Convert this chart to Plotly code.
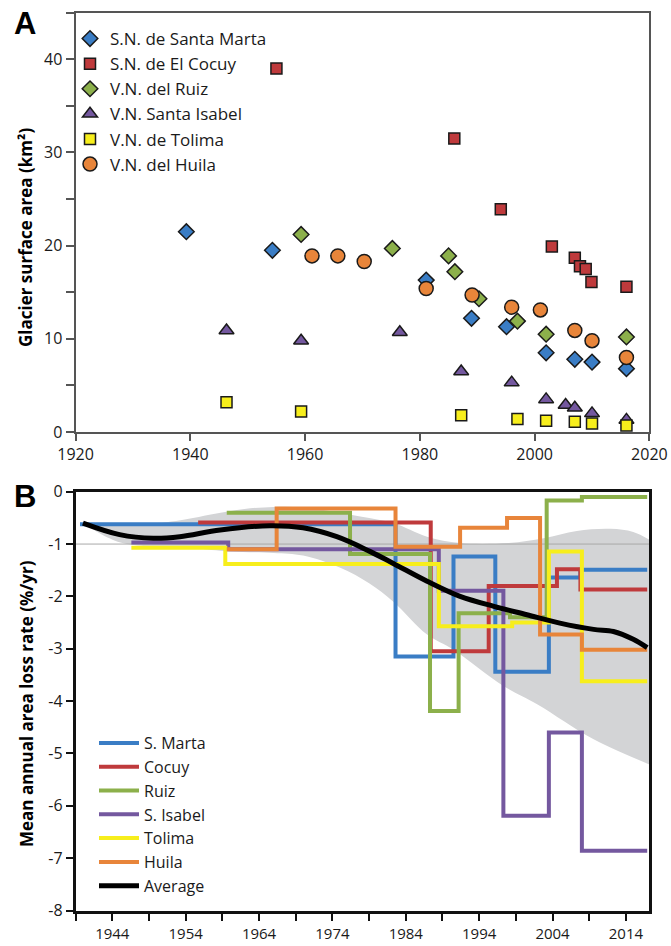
import plotly.graph_objects as go

# ---------------- Panel A: glacier surface area (km²) ----------------
sm_year = [1939.3, 1954.3, 1981.1, 1989.0, 1995.1, 2002.0, 2007.0, 2010.0, 2016.0]
sm_area = [21.5, 19.5, 16.3, 12.2, 11.3, 8.5, 7.8, 7.5, 6.8]
co_year = [1955.0, 1986.0, 1994.1, 2003.0, 2007.0, 2007.9, 2008.9, 2009.9, 2016.0]
co_area = [39.0, 31.5, 23.9, 19.9, 18.7, 17.8, 17.5, 16.1, 15.6]
ru_year = [1959.3, 1975.2, 1985.0, 1986.1, 1990.3, 1997.0, 2002.0, 2016.0]
ru_area = [21.2, 19.7, 18.9, 17.2, 14.3, 11.9, 10.5, 10.2]
si_year = [1946.3, 1959.3, 1976.5, 1987.2, 1996.0, 2002.0, 2005.4, 2007.0, 2010.0, 2016.0]
si_area = [10.9, 9.8, 10.7, 6.5, 5.3, 3.5, 2.9, 2.6, 2.0, 1.3]
to_year = [1946.3, 1959.3, 1987.2, 1997.0, 2002.0, 2007.0, 2010.0, 2016.0]
to_area = [3.2, 2.2, 1.8, 1.4, 1.2, 1.1, 0.9, 0.7]
hu_year = [1961.2, 1965.7, 1970.3, 1981.1, 1989.1, 1996.0, 2001.0, 2007.0, 2010.0, 2016.0]
hu_area = [18.9, 18.9, 18.3, 15.4, 14.7, 13.4, 13.1, 10.9, 9.8, 8.0]

# ---------------- Panel B: mean annual area loss rate (%/yr) ----------------
sm_rx = [1939.6, 1982.6, 1990.5, 1996.2, 2003.5, 2007.8, 2016.9]
sm_r = [-0.62, -3.15, -1.24, -3.44, -1.64, -1.49, -1.49]
co_rx = [1955.7, 1987.4, 1995.3, 2004.6, 2007.8, 2016.9]
co_r = [-0.59, -3.05, -1.80, -1.48, -1.87, -1.87]
ru_rx = [1959.6, 1976.4, 1987.3, 1991.2, 1998.2, 2003.2, 2008.0, 2016.9]
ru_r = [-0.40, -1.19, -4.19, -2.32, -2.40, -0.17, -0.10, -0.10]
si_rx = [1946.6, 1959.8, 1988.5, 1997.3, 2003.5, 2008.0, 2016.9]
si_r = [-0.97, -1.10, -1.89, -6.19, -4.60, -6.86, -6.86]
to_rx = [1946.6, 1959.4, 1988.5, 1998.5, 2003.5, 2008.0, 2016.9]
to_r = [-1.07, -1.38, -2.57, -2.50, -1.14, -3.62, -3.62]
hu_rx = [1959.6, 1966.4, 1982.6, 1991.4, 1997.8, 2002.3, 2008.0, 2016.9]
hu_r = [-1.10, -0.32, -1.05, -0.69, -0.50, -2.73, -3.02, -3.02]

avg_x = [1940.0, 1945.0, 1949.6, 1953.2, 1958.7, 1965.5, 1970.0, 1974.6, 1979.1,
         1982.3, 1986.9, 1991.4, 1996.0, 2000.5, 2005.0, 2009.6, 2012.3, 2015.0, 2016.9]
avg_r = [-0.60, -0.82, -0.89, -0.86, -0.73, -0.65, -0.69, -0.86, -1.14,
         -1.37, -1.71, -2.00, -2.19, -2.35, -2.51, -2.63, -2.67, -2.82, -2.98]

band_up_x = [1940.0, 1950.0, 1955.0, 1958.0, 1962.0, 1966.0, 1970.0, 1975.0, 1978.0,
             1982.3, 1986.9, 1991.4, 1998.0, 2002.8, 2007.3, 2011.9, 2015.0, 2017.2]
band_up = [-0.60, -0.60, -0.50, -0.42, -0.33, -0.29, -0.30, -0.40, -0.48,
           -0.60, -0.86, -0.98, -0.98, -0.89, -0.75, -0.71, -0.77, -0.92]
band_lo_x = [1940.0, 1943.0, 1946.0, 1955.0, 1960.0, 1966.0, 1970.0, 1975.0, 1979.0,
             1982.3, 1986.9, 1990.5, 1997.3, 2001.9, 2009.6, 2017.2]
band_lo = [-0.60, -0.85, -1.00, -1.08, -1.14, -1.17, -1.22, -1.45, -1.75,
           -2.10, -2.73, -3.02, -3.71, -4.06, -4.73, -5.21]

top_xticks = [1920, 1940, 1960, 1980, 2000, 2020]
top_yticks = [0, 10, 20, 30, 40]
bot_xticks = [1944, 1954, 1964, 1974, 1984, 1994, 2004, 2014]
bot_yticks = [0, -1, -2, -3, -4, -5, -6, -7, -8]
bot_ylabels = ["0", "-1", "-2", "-3", "-4", "-5", "-6", "-7", "-8"]
bot_xrange = [1939.0, 2017.2]

C_BLUE = "#3a7dc5"
C_RED = "#bf3a3c"
C_GREEN = "#8cb04b"
C_PURPLE = "#74589f"
C_YELLOW = "#f7ee1c"
C_ORANGE = "#e8853a"
FONT = "Open Sans"

fig = go.Figure()

outline = dict(color="#1a1a1a", width=1.5)
top_series = [
    ("S.N. de Santa Marta", sm_year, sm_area, "diamond", 12, C_BLUE),
    ("S.N. de El Cocuy", co_year, co_area, "square", 11, C_RED),
    ("V.N. del Ruiz", ru_year, ru_area, "diamond", 12, C_GREEN),
    ("V.N. Santa Isabel", si_year, si_area, "triangle-up", 13, C_PURPLE),
    ("V.N. de Tolima", to_year, to_area, "square", 11, C_YELLOW),
    ("V.N. del Huila", hu_year, hu_area, "circle", 14, C_ORANGE),
]
for name, xs, ys, sym, sz, col in top_series:
    fig.add_trace(go.Scatter(x=xs, y=ys, mode="markers", name=name,
                             marker=dict(symbol=sym, size=sz, color=col, line=outline),
                             xaxis="x", yaxis="y", legend="legend"))

# grey envelope
fig.add_trace(go.Scatter(x=band_lo_x, y=band_lo, mode="lines", line=dict(width=0, shape="spline"),
                         showlegend=False, hoverinfo="skip", xaxis="x2", yaxis="y2"))
fig.add_trace(go.Scatter(x=band_up_x, y=band_up, mode="lines", line=dict(width=0, shape="spline"),
                         fill="tonexty", fillcolor="#d3d4d6",
                         showlegend=False, hoverinfo="skip", xaxis="x2", yaxis="y2"))
# reference line at -1
fig.add_trace(go.Scatter(x=bot_xrange, y=[-1, -1], mode="lines", line=dict(color="#a8a8a8", width=1),
                         showlegend=False, hoverinfo="skip", xaxis="x2", yaxis="y2"))

bot_series = [
    ("S. Marta", sm_rx, sm_r, C_BLUE),
    ("Cocuy", co_rx, co_r, C_RED),
    ("Ruiz", ru_rx, ru_r, C_GREEN),
    ("S. Isabel", si_rx, si_r, C_PURPLE),
    ("Tolima", to_rx, to_r, C_YELLOW),
    ("Huila", hu_rx, hu_r, C_ORANGE),
]
for name, xs, ys, col in bot_series:
    fig.add_trace(go.Scatter(x=xs, y=ys, mode="lines", name=name,
                             line=dict(color=col, width=4, shape="hv"),
                             xaxis="x2", yaxis="y2", legend="legend2"))
fig.add_trace(go.Scatter(x=avg_x, y=avg_r, mode="lines", name="Average",
                         line=dict(color="#000000", width=5, shape="spline"),
                         xaxis="x2", yaxis="y2", legend="legend2"))

W, H = 671, 946
xdom = [75.6 / W, 649.4 / W]
top_dom = [1 - 432.0 / H, 1 - 12.7 / H]
bot_dom = [1 - 910.5 / H, 1 - 491.7 / H]

tickfont = dict(family=FONT, size=16, color="#1a1a1a")
tickfont_b = dict(family=FONT, size=15, color="#1a1a1a")
grey_ax = "#555555"

fig.update_layout(
    width=W, height=H,
    template="none",
    paper_bgcolor="white", plot_bgcolor="white",
    margin=dict(l=0, r=0, t=0, b=0),
    font=dict(family=FONT, size=16, color="#1a1a1a"),
    xaxis=dict(domain=xdom, range=[1920, 2020], anchor="y",
               tickvals=top_xticks, ticks="outside", ticklen=7, tickwidth=2, tickcolor=grey_ax,
               showline=True, linecolor=grey_ax, linewidth=2, mirror=True,
               showgrid=False, zeroline=False, tickfont=tickfont, automargin=False),
    yaxis=dict(domain=top_dom, range=[0, 45], anchor="x",
               tickvals=top_yticks, ticks="outside", ticklen=8, tickwidth=2, tickcolor=grey_ax,
               minor=dict(tickvals=[5, 15, 25, 35, 45], ticks="outside", ticklen=8, tickwidth=2,
                          tickcolor=grey_ax, showgrid=False),
               showline=True, linecolor=grey_ax, linewidth=2, mirror=True,
               showgrid=False, zeroline=False, tickfont=tickfont, automargin=False),
    xaxis2=dict(domain=xdom, range=bot_xrange, anchor="y2",
                tickvals=bot_xticks, ticks="outside", ticklen=8, tickwidth=2, tickcolor="#111",
                minor=dict(tick0=1944, dtick=5, ticks="outside", ticklen=8, tickwidth=2,
                           tickcolor="#111", showgrid=False),
                showline=True, linecolor="#111", linewidth=2.5, mirror=True,
                showgrid=False, zeroline=False, tickfont=tickfont_b, automargin=False),
    yaxis2=dict(domain=bot_dom, range=[-8, 0], anchor="x2",
                tickvals=bot_yticks, ticktext=bot_ylabels, ticks="outside", ticklen=7, tickwidth=2,
                tickcolor="#111",
                showline=True, linecolor="#111", linewidth=2.5, mirror=True,
                showgrid=False, zeroline=False, tickfont=tickfont, automargin=False),
    legend=dict(x=70 / W, y=1 - 21 / H, xanchor="left", yanchor="top", traceorder="normal",
                bgcolor="rgba(0,0,0,0)", font=dict(family=FONT, size=17, color="#1a1a1a"),
                itemwidth=30, tracegroupgap=0),
    legend2=dict(x=94 / W, y=1 - 726 / H, xanchor="left", yanchor="top", traceorder="normal",
                 bgcolor="rgba(0,0,0,0)", font=dict(family=FONT, size=16, color="#1a1a1a"),
                 itemwidth=40, tracegroupgap=0),
    annotations=[
        dict(text="<b>A</b>", x=25 / W, y=1 - 23 / H, xref="paper", yref="paper",
             xanchor="center", yanchor="middle",
             showarrow=False, font=dict(family="Liberation Sans", size=31, color="#000")),
        dict(text="<b>B</b>", x=25 / W, y=1 - 497 / H, xref="paper", yref="paper",
             xanchor="center", yanchor="middle",
             showarrow=False, font=dict(family="Liberation Sans", size=31, color="#000")),
        dict(text="<b>Glacier surface area (km²)</b>", x=26 / W, y=1 - 238 / H,
             xref="paper", yref="paper", textangle=-90, showarrow=False,
             xanchor="center", yanchor="middle",
             font=dict(family=FONT, size=17, color="#000")),
        dict(text="<b>Mean annual area loss rate (%/yr)</b>", x=26 / W, y=1 - 704 / H,
             xref="paper", yref="paper", textangle=-90, showarrow=False,
             xanchor="center", yanchor="middle",
             font=dict(family=FONT, size=17, color="#000")),
    ],
)

fig.write_html("out.html", config={"displayModeBar": False},
               post_script="document.body.style.margin='0px';document.body.style.overflow='hidden';")
